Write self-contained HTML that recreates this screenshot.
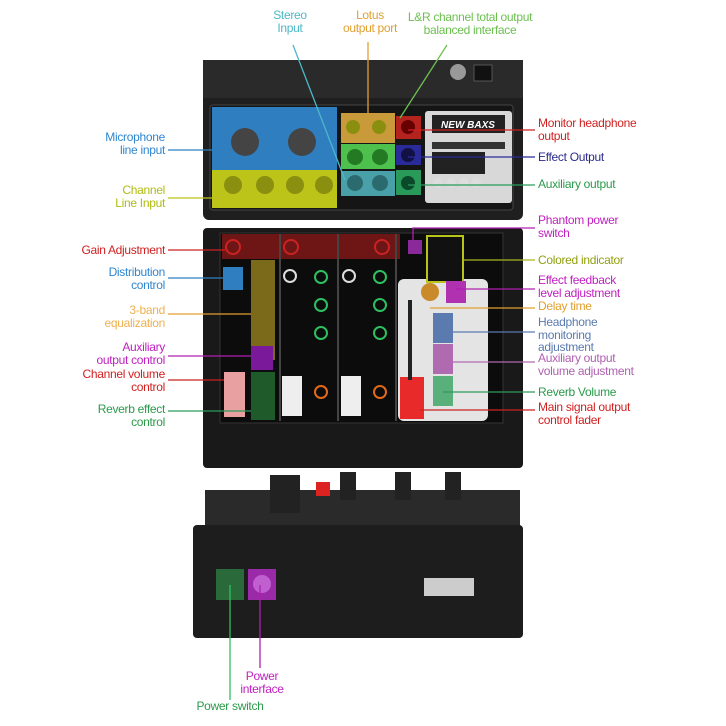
<!DOCTYPE html>
<html><head><meta charset="utf-8"><style>
body{margin:0;background:#fff;}
#c{position:relative;width:726px;height:726px;overflow:hidden;background:#fff;font-family:"Liberation Sans",sans-serif;}
.t{position:absolute;font-size:12px;line-height:12.5px;white-space:nowrap;letter-spacing:-0.3px}
.r{text-align:right}.m{text-align:center}
.a{position:absolute}
</style></head><body><div id="c">
<svg class="a" style="left:0;top:0" width="726" height="726">
<!-- top body -->
<rect x="203" y="60" width="320" height="160" rx="6" fill="#1f1f20"/>
<rect x="203" y="228" width="320" height="240" rx="4" fill="#19191a"/>
<rect x="203" y="60" width="320" height="38" fill="#2a2a2b"/>
<circle cx="458" cy="72" r="8" fill="#999"/><rect x="474" y="65" width="18" height="16" fill="#111" stroke="#555"/>
<!-- jack panel -->
<rect x="210" y="105" width="303" height="105" rx="3" fill="#151515" stroke="#444"/>
<rect x="212" y="107" width="125" height="63" fill="#2f7fc0"/>
<rect x="212" y="170" width="125" height="38" fill="#bcc41a"/>
<rect x="341" y="113" width="54" height="30" fill="#c99a3a"/>
<rect x="341" y="144" width="54" height="25" fill="#4ec04e"/>
<rect x="341" y="171" width="54" height="25" fill="#4aa0a8"/>
<rect x="396" y="116" width="25" height="23" fill="#b5231f"/>
<rect x="396" y="145" width="25" height="20" fill="#2a2a9a"/>
<rect x="396" y="170" width="25" height="25" fill="#2a9a5a"/>
<rect x="425" y="111" width="87" height="92" rx="3" fill="#d8d8d8"/>
<rect x="432" y="115" width="73" height="18" fill="#222"/>
<text x="468" y="128" font-size="10" fill="#fff" text-anchor="middle" font-weight="bold" font-style="italic">NEW BAXS</text>
<rect x="432" y="142" width="73" height="7" fill="#333"/>
<rect x="432" y="152" width="53" height="22" fill="#222"/>
<g fill="#ddd"><circle cx="438" cy="183" r="5"/><circle cx="451" cy="183" r="5"/><circle cx="464" cy="183" r="5"/><circle cx="476" cy="183" r="5"/></g>
<g fill="#444"><circle cx="245" cy="142" r="14"/><circle cx="302" cy="142" r="14"/></g>
<g fill="#8a8f10"><circle cx="233" cy="185" r="9"/><circle cx="265" cy="185" r="9"/><circle cx="295" cy="185" r="9"/><circle cx="324" cy="185" r="9"/>
<circle cx="353" cy="127" r="7"/><circle cx="379" cy="127" r="7"/></g>
<g fill="#237a23"><circle cx="355" cy="157" r="8"/><circle cx="380" cy="157" r="8"/></g>
<g fill="#2b6b70"><circle cx="355" cy="183" r="8"/><circle cx="380" cy="183" r="8"/></g>
<circle cx="408" cy="127" r="7" fill="#600"/><circle cx="408" cy="155" r="7" fill="#114"/><circle cx="408" cy="183" r="7" fill="#0a4a2a"/>
<!-- lower panel -->
<rect x="220" y="233" width="283" height="190" fill="#0c0c0c" stroke="#333"/>
<rect x="222" y="234" width="178" height="25" fill="#6e1616"/>
<rect x="398" y="279" width="90" height="142" rx="6" fill="#e4e4e4"/>
<rect x="223" y="267" width="20" height="23" fill="#2f7fc0"/>
<rect x="251" y="260" width="24" height="100" fill="#7a6a1a"/>
<rect x="251" y="346" width="22" height="24" fill="#7a1a9a"/>
<rect x="251" y="372" width="24" height="48" fill="#1f5a2a"/>
<rect x="224" y="372" width="21" height="45" fill="#e8a0a0"/>
<rect x="282" y="376" width="20" height="40" fill="#eee"/><rect x="341" y="376" width="20" height="40" fill="#eee"/>
<rect x="400" y="377" width="24" height="42" fill="#e82a2a"/>
<rect x="408" y="300" width="4" height="80" fill="#222"/>
<g stroke="#444" stroke-width="2"><line x1="280" y1="234" x2="280" y2="421"/><line x1="338" y1="234" x2="338" y2="421"/><line x1="396" y1="234" x2="396" y2="421"/></g>
<g fill="none" stroke="#2ec060" stroke-width="2"><circle cx="321" cy="277" r="6"/><circle cx="321" cy="305" r="6"/><circle cx="321" cy="333" r="6"/><circle cx="380" cy="277" r="6"/><circle cx="380" cy="305" r="6"/><circle cx="380" cy="333" r="6"/></g>
<g fill="none" stroke="#ddd" stroke-width="2"><circle cx="290" cy="276" r="6"/><circle cx="349" cy="276" r="6"/></g>
<g fill="none" stroke="#e26a1a" stroke-width="2"><circle cx="321" cy="392" r="6"/><circle cx="380" cy="392" r="6"/></g>
<g fill="none" stroke="#cc2222" stroke-width="2"><circle cx="233" cy="247" r="7"/><circle cx="291" cy="247" r="7"/><circle cx="382" cy="247" r="7"/></g>
<rect x="427" y="236" width="36" height="46" fill="#111" stroke="#b8c41a" stroke-width="2"/>
<rect x="408" y="240" width="14" height="14" fill="#8a2a9a"/>
<circle cx="430" cy="292" r="9" fill="#c98a2a"/><rect x="446" y="281" width="20" height="22" fill="#b032b0"/>
<rect x="433" y="313" width="20" height="30" fill="#5a7ab0"/><rect x="433" y="344" width="20" height="30" fill="#b06ab0"/><rect x="433" y="376" width="20" height="30" fill="#5ab07a"/>
<!-- bottom mixer -->
<rect x="205" y="490" width="315" height="38" fill="#2a2a2a"/>
<g fill="#222"><rect x="270" y="475" width="30" height="38"/><rect x="340" y="472" width="16" height="28"/><rect x="395" y="472" width="16" height="28"/><rect x="445" y="472" width="16" height="28"/></g>
<rect x="316" y="482" width="14" height="14" fill="#d22"/>
<rect x="193" y="525" width="330" height="113" rx="4" fill="#1d1d1e"/>
<rect x="216" y="569" width="28" height="31" fill="#2a6a3a"/>
<rect x="248" y="569" width="28" height="31" fill="#9a2aa8"/>
<circle cx="262" cy="584" r="9" fill="#c060d0"/>
<rect x="424" y="578" width="50" height="18" fill="#ccc"/>
<!-- leader lines -->
<g stroke-width="1.3" fill="none">
<line x1="293" y1="45" x2="345" y2="180" stroke="#4ab8c8"/>
<line x1="368" y1="42" x2="368" y2="113" stroke="#e0a030"/>
<line x1="447" y1="45" x2="400" y2="118" stroke="#6cc050"/>
<line x1="168" y1="150" x2="212" y2="150" stroke="#2f7fc0"/>
<line x1="168" y1="198" x2="212" y2="198" stroke="#bcc41a"/>
<line x1="168" y1="250" x2="225" y2="250" stroke="#cc2222"/>
<line x1="168" y1="278" x2="223" y2="278" stroke="#2f7fc0"/>
<line x1="168" y1="314" x2="251" y2="314" stroke="#e0a030"/>
<line x1="168" y1="356" x2="251" y2="356" stroke="#b020b0"/>
<line x1="168" y1="380" x2="224" y2="380" stroke="#cc2222"/>
<line x1="168" y1="411" x2="251" y2="411" stroke="#2a9a5a"/>
<line x1="408" y1="130" x2="535" y2="130" stroke="#cc2222"/>
<line x1="408" y1="157" x2="535" y2="157" stroke="#2a2a9a"/>
<line x1="408" y1="185" x2="535" y2="185" stroke="#2a9a5a"/>
<polyline points="413,240 413,228 535,228" stroke="#b020b0"/>
<line x1="463" y1="260" x2="535" y2="260" stroke="#a8b820"/>
<line x1="456" y1="289" x2="535" y2="289" stroke="#b020b0"/>
<line x1="430" y1="308" x2="535" y2="308" stroke="#e0a030"/>
<line x1="453" y1="332" x2="535" y2="332" stroke="#5a7ab0"/>
<line x1="453" y1="362" x2="535" y2="362" stroke="#b06ab0"/>
<line x1="443" y1="392" x2="535" y2="392" stroke="#2a9a5a"/>
<line x1="420" y1="410" x2="535" y2="410" stroke="#cc2222"/>
<line x1="230" y1="585" x2="230" y2="700" stroke="#2ec060"/>
<line x1="260" y1="585" x2="260" y2="668" stroke="#b020b0"/>
</g>
</svg>
<div class="t m" style="left:260px;top:9px;width:60px;color:#4ab8c8">Stereo<br>Input</div>
<div class="t m" style="left:325px;top:9px;width:90px;color:#e0a030">Lotus<br>output port</div>
<div class="t m" style="left:395px;top:11px;width:150px;color:#6cc050">L&amp;R channel total output<br>balanced interface</div>
<div class="t r" style="left:40px;top:131px;width:125px;color:#2f86d0">Microphone<br>line input</div>
<div class="t r" style="left:40px;top:184px;width:125px;color:#b0bc10">Channel<br>Line Input</div>
<div class="t r" style="left:40px;top:244px;width:125px;color:#d02020">Gain Adjustment</div>
<div class="t r" style="left:40px;top:266px;width:125px;color:#2f86d0">Distribution<br>control</div>
<div class="t r" style="left:40px;top:304px;width:125px;color:#f0b050">3-band<br>equalization</div>
<div class="t r" style="left:40px;top:341px;width:125px;color:#c020c0">Auxiliary<br>output control</div>
<div class="t r" style="left:40px;top:368px;width:125px;color:#d02020">Channel volume<br>control</div>
<div class="t r" style="left:40px;top:403px;width:125px;color:#2a9a4a">Reverb effect<br>control</div>
<div class="t" style="left:538px;top:117px;color:#d02020">Monitor headphone<br>output</div>
<div class="t" style="left:538px;top:151px;color:#2a2a8a">Effect Output</div>
<div class="t" style="left:538px;top:178px;color:#2a9a4a">Auxiliary output</div>
<div class="t" style="left:538px;top:214px;color:#c020c0">Phantom power<br>switch</div>
<div class="t" style="left:538px;top:254px;color:#90a010">Colored indicator</div>
<div class="t" style="left:538px;top:274px;color:#c020c0">Effect feedback<br>level adjustment</div>
<div class="t" style="left:538px;top:300px;color:#e0a030">Delay time</div>
<div class="t" style="left:538px;top:316px;color:#5a7ab0">Headphone<br>monitoring<br>adjustment</div>
<div class="t" style="left:538px;top:352px;color:#b060b0">Auxiliary output<br>volume adjustment</div>
<div class="t" style="left:538px;top:386px;color:#2a9a4a">Reverb Volume</div>
<div class="t" style="left:538px;top:401px;color:#d02020">Main signal output<br>control fader</div>
<div class="t m" style="left:222px;top:670px;width:80px;color:#c020c0">Power<br>interface</div>
<div class="t m" style="left:180px;top:700px;width:100px;color:#2a9a4a">Power switch</div>
</div></body></html>
